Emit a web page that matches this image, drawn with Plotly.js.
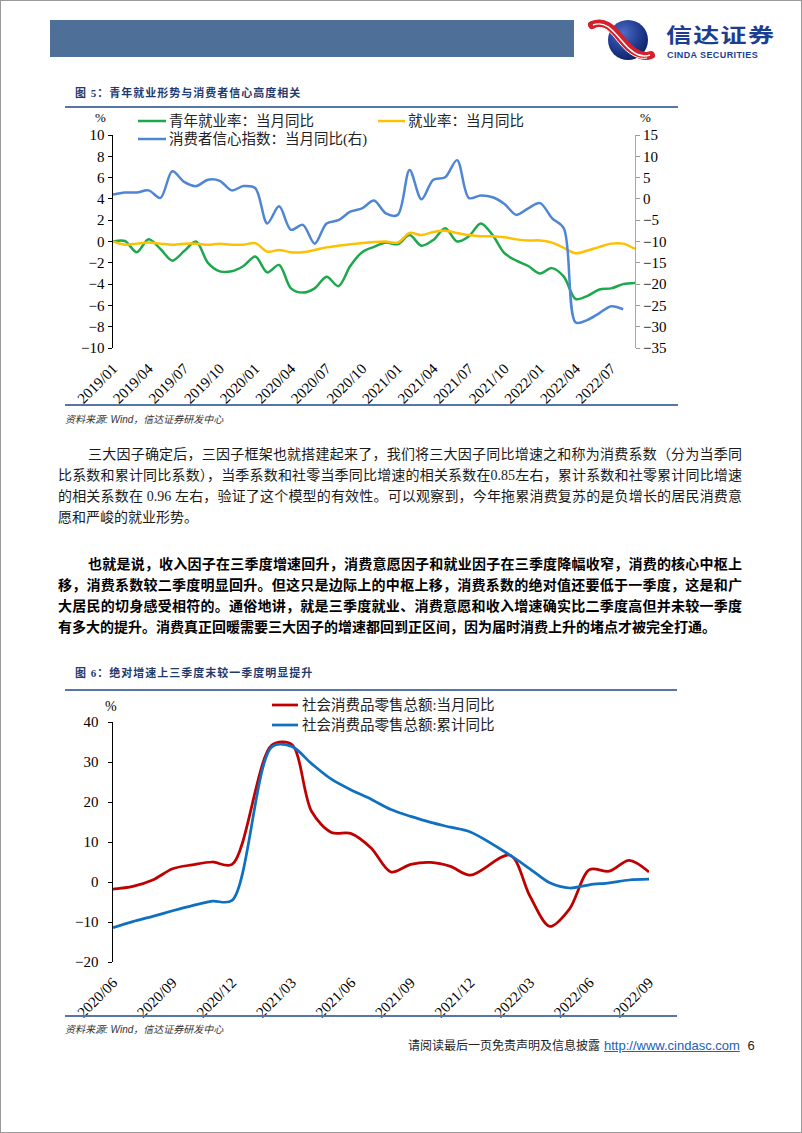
<!DOCTYPE html>
<html>
<head>
<meta charset="utf-8">
<script src="https://cdn.plot.ly/plotly-3.0.1.min.js"></script>
<style>
html,body{margin:0;padding:0;background:#fff;}
#page{position:relative;width:802px;height:1133px;overflow:hidden;background:#fff;
  font-family:"Liberation Serif","Noto Sans CJK SC",serif;color:#111;}
.frame{position:absolute;left:0;top:0;width:800px;height:1131px;border:1px solid #9a9a9a;}
.abs{position:absolute;}
.bar{position:absolute;left:50px;top:20px;width:524px;height:37px;background:#4E6F98;}
.ftitle{position:absolute;left:75px;font-family:"Liberation Serif","Noto Sans CJK SC",serif;font-weight:700;
  font-size:11px;letter-spacing:1px;color:#1F3A6E;line-height:14px;white-space:nowrap;}
.rule{position:absolute;left:65px;height:2px;background:#5677A6;}
.src{position:absolute;left:65px;font-size:10px;font-style:italic;color:#333;line-height:12px;white-space:nowrap;
  font-family:"Liberation Sans","Noto Sans CJK SC",sans-serif;}
.para{position:absolute;left:58px;width:684px;font-size:14px;line-height:21px;color:#1a1a1a;
  font-family:"Liberation Serif","Noto Sans CJK SC",serif;}
.para div{white-space:nowrap;text-align:justify;text-align-last:justify;height:21px;}
.para div.last{text-align:left;text-align-last:left;}
.para div.ind{padding-left:30px;}
.bold{font-weight:700;color:#000;}
.chart{position:absolute;left:0;width:802px;}
</style>
</head>
<body>
<div id="page">
  <div class="frame"></div>
  <div class="bar"></div>
  <svg class="abs" style="left:585px;top:14px" width="75" height="52" viewBox="585 14 75 52">
    <defs>
      <radialGradient id="g1" cx="0.38" cy="0.32" r="0.75">
        <stop offset="0" stop-color="#4d6cc4"/>
        <stop offset="0.6" stop-color="#1f3a8e"/>
        <stop offset="1" stop-color="#0d1f5e"/>
      </radialGradient>
    </defs>
    <circle cx="628" cy="40" r="20" fill="url(#g1)"/>
    <path d="M592,25 C606,19 614,31 622,40 C630,50 640,59 651,55" fill="none" stroke="#d4202a" stroke-width="8" stroke-linecap="round"/>
    <path d="M593,25 C606,20 614,32 622,41 C630,51 640,59 650,55" fill="none" stroke="#ffffff" stroke-width="1.4"/>
    <path d="M595,28.5 C606,24 612,35 620,44 C628,54 638,60 647,58" fill="none" stroke="#ffffff" stroke-width="1"/>
  </svg>
  <div class="abs" style="left:666px;top:25px;font-family:'Noto Sans CJK SC',sans-serif;font-weight:700;font-size:20px;letter-spacing:1px;color:#1B3E92;line-height:20px;height:20px;white-space:nowrap;transform:scaleX(1.3);transform-origin:0 50%;">信达证券</div>
  <div class="abs" style="left:667px;top:50.5px;font-family:'Liberation Sans',sans-serif;font-weight:700;font-size:9px;letter-spacing:0.4px;color:#1B3E92;line-height:9px;height:9px;white-space:nowrap;">CINDA SECURITIES</div>

  <div class="ftitle" style="top:86px;">图 5：青年就业形势与消费者信心高度相关</div>
  <div class="rule" style="top:106px;width:613px;"></div>
  <div id="chart1" class="chart" style="top:110px;height:300px;"></div>
  <div class="rule" style="top:404px;width:613px;"></div>
  <div class="src" style="top:414px;">资料来源: Wind，信达证券研发中心</div>

  <div class="para" style="top:444px;">
    <div class="ind">三大因子确定后，三因子框架也就搭建起来了，我们将三大因子同比增速之和称为消费系数（分为当季同</div>
    <div>比系数和累计同比系数），当季系数和社零当季同比增速的相关系数在0.85左右，累计系数和社零累计同比增速</div>
    <div>的相关系数在 0.96 左右，验证了这个模型的有效性。可以观察到，今年拖累消费复苏的是负增长的居民消费意</div>
    <div class="last">愿和严峻的就业形势。</div>
  </div>
  <div class="para bold" style="top:554px;">
    <div class="ind">也就是说，收入因子在三季度增速回升，消费意愿因子和就业因子在三季度降幅收窄，消费的核心中枢上</div>
    <div>移，消费系数较二季度明显回升。但这只是边际上的中枢上移，消费系数的绝对值还要低于一季度，这是和广</div>
    <div>大居民的切身感受相符的。通俗地讲，就是三季度就业、消费意愿和收入增速确实比二季度高但并未较一季度</div>
    <div class="last">有多大的提升。消费真正回暖需要三大因子的增速都回到正区间，因为届时消费上升的堵点才被完全打通。</div>
  </div>

  <div class="ftitle" style="top:666px;">图 6：绝对增速上三季度末较一季度明显提升</div>
  <div class="rule" style="top:689px;width:612px;"></div>
  <div id="chart2" class="chart" style="top:692px;height:335px;"></div>
  <div class="rule" style="top:1015px;width:612px;"></div>
  <div class="src" style="top:1024px;">资料来源: Wind，信达证券研发中心</div>

  <div class="abs" style="left:408px;top:1037px;line-height:16px;white-space:nowrap;">
    <span style="font-family:'Noto Sans CJK SC',sans-serif;font-size:12px;color:#222;">请阅读最后一页免责声明及信息披露</span>
    <span style="font-family:'Liberation Sans',sans-serif;font-size:13px;color:#2060C0;text-decoration:underline;">http://www.cindasc.com</span>
    <span style="font-family:'Liberation Sans',sans-serif;font-size:13px;color:#222;">&nbsp;6</span>
  </div>
</div>

<script>
// ---------------- Chart 1 data ----------------
const months1 = ["2019/01","2019/02","2019/03","2019/04","2019/05","2019/06","2019/07","2019/08","2019/09","2019/10","2019/11","2019/12",
  "2020/01","2020/02","2020/03","2020/04","2020/05","2020/06","2020/07","2020/08","2020/09","2020/10","2020/11","2020/12",
  "2021/01","2021/02","2021/03","2021/04","2021/05","2021/06","2021/07","2021/08","2021/09","2021/10","2021/11","2021/12",
  "2022/01","2022/02","2022/03","2022/04","2022/05","2022/06","2022/07","2022/08","2022/09"];
const youthEmployment = [0.0, 0.05, -1.0, 0.2, -0.7, -1.8, -0.9, 0.0, -2.0, -2.8, -2.8, -2.3,
  -1.4, -2.9, -2.2, -4.4, -4.8, -4.4, -3.3, -4.2, -2.3, -1.0, -0.5, -0.1,
  -0.25, 0.6, -0.4, 0.15, 1.25, 0.0, 0.5, 1.7, 0.6, -1.1, -1.8, -2.3,
  -3.0, -2.5, -3.3, -5.4, -5.1, -4.5, -4.4, -4.0, -3.9];
const employmentRate = [0.0, -0.3, -0.2, -0.1, -0.2, -0.3, -0.2, -0.2, -0.3, -0.2, -0.3, -0.3,
  -0.15, -0.95, -0.8, -1.0, -1.0, -0.8, -0.55, -0.4, -0.25, -0.15, -0.05, 0.0,
  -0.1, 0.8, 0.6, 0.9, 1.0, 0.8, 0.6, 0.5, 0.5, 0.4, 0.2, 0.1,
  0.1, -0.1, -0.6, -1.1, -0.85, -0.5, -0.2, -0.2, -0.7];
const consumerConfidence = [1.0, 1.5, 1.5, 2.0, 0.25, 6.5, 4.0, 3.0, 4.5, 4.25, 2.0, 3.0,
  2.5, -5.75, -1.75, -7.25, -6.1, -10.5, -5.75, -5.0, -3.0, -2.2, -0.4, -3.4,
  -3.75, 6.8, -0.1, 4.5, 5.1, 9.1, 0.2, 0.8, 0.4, -1.2, -3.75, -2.2,
  -1.0, -4.5, -6.9, -29.0, -28.4, -26.8, -25.2, -25.9];
const names1 = ["青年就业率：当月同比", "就业率：当月同比", "消费者信心指数：当月同比(右)"];

// ---------------- Chart 2 data ----------------
const months2 = ["2020/06","2020/07","2020/08","2020/09","2020/10","2020/11","2020/12",
  "2021/01","2021/02","2021/03","2021/04","2021/05","2021/06","2021/07","2021/08","2021/09","2021/10","2021/11","2021/12",
  "2022/01","2022/02","2022/03","2022/04","2022/05","2022/06","2022/07","2022/08","2022/09"];
const retailMonthly = [-1.8, -1.1, 0.5, 3.3, 4.3, 5.0, 4.4,
  null, 34.2, 34.4, 17.7, 12.4, 12.1, 8.5, 2.5, 4.4, 4.9, 3.9, 1.7,
  null, 6.7, -3.5, -11.1, -6.7, 3.1, 2.7, 5.4, 2.5];
const retailCumulative = [-11.4, -9.9, -8.6, -7.2, -5.9, -4.8, -4.6,
  null, 33.8, 33.9, 29.6, 25.7, 23.0, 20.7, 18.1, 16.4, 14.9, 13.7, 12.5,
  null, 6.7, 3.3, -0.2, -1.5, -0.7, -0.2, 0.5, 0.7];
const names2 = ["社会消费品零售总额:当月同比", "社会消费品零售总额:累计同比"];

const numFont = "Liberation Serif, Noto Sans CJK SC, serif";
const cfg = {staticPlot:true, displayModeBar:false};

// ---------- chart 1 ----------
(function(){
  const top = 110, H = 300, L = 113, R = 635, T = 135, B = 348;
  const px = x => (x - L) / (R - L);
  const py = y => (B - y) / (B - T);
  const c = {green:"#1EA84E", yellow:"#FFC000", blue:"#4F86D4"};
  const traces = [
    {x: months1, y: youthEmployment, name: names1[0], type:"scatter", mode:"lines",
     line:{color:c.green, width:2.5, shape:"spline", smoothing:0.9}},
    {x: months1, y: employmentRate, name: names1[1], type:"scatter", mode:"lines",
     line:{color:c.yellow, width:2.5, shape:"spline", smoothing:0.9}},
    {x: months1.slice(0, consumerConfidence.length), y: consumerConfidence, name: names1[2], yaxis:"y2",
     type:"scatter", mode:"lines", line:{color:c.blue, width:2.5, shape:"spline", smoothing:0.9}}
  ];
  const leg = (x0, x1, y, col, txt) => ({
    shape:{type:"line", xref:"paper", yref:"paper", x0:px(x0), x1:px(x1), y0:py(y), y1:py(y), line:{color:col, width:2.5}},
    ann:{xref:"paper", yref:"paper", x:px(x1+1), y:py(y), xanchor:"left", yanchor:"middle", showarrow:false, text:txt,
         font:{family:numFont, size:14.5, color:"#222"}}
  });
  const legs = [leg(138,166,121,c.green,names1[0]), leg(378,405,121,c.yellow,names1[1]), leg(138,166,139,c.blue,names1[2])];
  const layout = {
    width:802, height:H, margin:{l:L, r:802-R, t:T-top, b:top+H-B}, showlegend:false,
    paper_bgcolor:"rgba(0,0,0,0)", plot_bgcolor:"rgba(0,0,0,0)",
    font:{family:numFont, size:15, color:"#000"},
    xaxis:{type:"category", range:[0, months1.length-1], tickmode:"linear", tick0:0, dtick:3, tickangle:-45,
      ticks:"outside", ticklen:5, tickcolor:"rgba(0,0,0,0)", showline:false, showgrid:false, zeroline:false,
      tickfont:{family:numFont, size:15, color:"#000"}},
    xaxis2:{overlaying:"x", anchor:"free", position:0.5, range:[0, months1.length-1], tickmode:"linear", tick0:0, dtick:3,
      showticklabels:false, ticks:"outside", ticklen:4, tickwidth:1.5, tickcolor:"#000", showline:true, linecolor:"#000", linewidth:1.5,
      showgrid:false, zeroline:false},
    yaxis:{range:[-10,10], tickmode:"linear", tick0:0, dtick:2, ticks:"outside", ticklen:4, tickcolor:"#000",
      showline:true, linecolor:"#000", linewidth:1.5, showgrid:false, zeroline:false,
      tickfont:{family:numFont, size:15, color:"#000"}},
    yaxis2:{overlaying:"y", side:"right", range:[-35,15], tickmode:"linear", tick0:0, dtick:5, ticks:"outside", ticklen:4,
      tickcolor:"#9a9a9a", showline:true, linecolor:"#a8a8a8", linewidth:1, showgrid:false, zeroline:false,
      tickfont:{family:numFont, size:15, color:"#000"}},
    shapes: legs.map(l => l.shape),
    annotations: legs.map(l => l.ann).concat([
      {xref:"paper", yref:"paper", x:px(100), y:py(118), xanchor:"center", yanchor:"middle", showarrow:false, text:"%",
       borderpad:0, font:{family:numFont, size:13, color:"#000"}},
      {xref:"paper", yref:"paper", x:px(645), y:py(118), xanchor:"center", yanchor:"middle", showarrow:false, text:"%",
       borderpad:0, font:{family:numFont, size:13, color:"#000"}}
    ])
  };
  Plotly.newPlot("chart1", traces, layout, cfg);
})();

// ---------- chart 2 ----------
(function(){
  const top = 692, H = 335, L = 113, R = 649, T = 722, B = 962;
  const px = x => (x - L) / (R - L);
  const py = y => (B - y) / (B - T);
  const c = {red:"#C00000", blue:"#1070C0"};
  const traces = [
    {x: months2, y: retailMonthly, name: names2[0], type:"scatter", mode:"lines", connectgaps:true,
     line:{color:c.red, width:2.75, shape:"spline", smoothing:0.9}},
    {x: months2, y: retailCumulative, name: names2[1], type:"scatter", mode:"lines", connectgaps:true,
     line:{color:c.blue, width:2.75, shape:"spline", smoothing:0.9}}
  ];
  const leg = (x0, x1, y, col, txt) => ({
    shape:{type:"line", xref:"paper", yref:"paper", x0:px(x0), x1:px(x1), y0:py(y), y1:py(y), line:{color:col, width:2.75}},
    ann:{xref:"paper", yref:"paper", x:px(x1+2), y:py(y), xanchor:"left", yanchor:"middle", showarrow:false, text:txt,
         font:{family:numFont, size:14.5, color:"#222"}}
  });
  const legs = [leg(272,298,705,c.red,names2[0]), leg(272,298,725,c.blue,names2[1])];
  const zeroPos = (0 - (-20)) / (40 - (-20));
  const layout = {
    width:802, height:H, margin:{l:L, r:802-R, t:T-top, b:top+H-B}, showlegend:false,
    paper_bgcolor:"rgba(0,0,0,0)", plot_bgcolor:"rgba(0,0,0,0)",
    font:{family:numFont, size:15, color:"#000"},
    xaxis:{type:"category", range:[0, months2.length-1], tickmode:"linear", tick0:0, dtick:3, tickangle:-45,
      ticks:"outside", ticklen:5, tickcolor:"rgba(0,0,0,0)", showline:false, showgrid:false, zeroline:false,
      tickfont:{family:numFont, size:15, color:"#000"}},
    xaxis2:{overlaying:"x", anchor:"free", position:zeroPos, range:[0, months2.length-1], tickmode:"linear", tick0:0, dtick:3,
      showticklabels:false, ticks:"outside", ticklen:5, tickwidth:1.5, tickcolor:"#000", showline:true, linecolor:"#000", linewidth:1.5,
      showgrid:false, zeroline:false},
    yaxis:{range:[-20,40], tickmode:"linear", tick0:0, dtick:10, ticks:"outside", ticklen:4, tickcolor:"#000",
      showline:true, linecolor:"#000", linewidth:1.5, showgrid:false, zeroline:false, ticklabelstandoff:6,
      tickfont:{family:numFont, size:15, color:"#000"}},
    shapes: legs.map(l => l.shape),
    annotations: legs.map(l => l.ann).concat([
      {xref:"paper", yref:"paper", x:px(111), y:py(706), xanchor:"center", yanchor:"middle", showarrow:false, text:"%",
       font:{family:numFont, size:14, color:"#000"}}
    ])
  };
  Plotly.newPlot("chart2", traces, layout, cfg);
})();
</script>
</body>
</html>
